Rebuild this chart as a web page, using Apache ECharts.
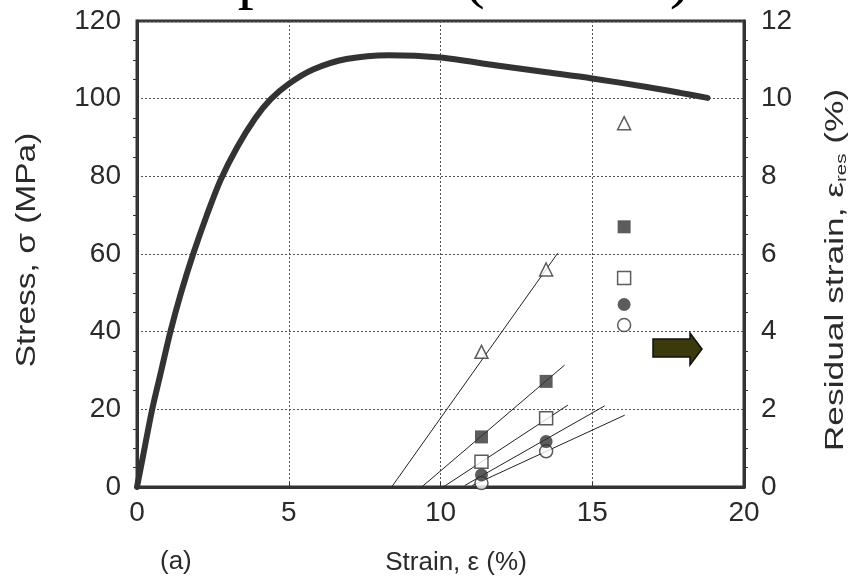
<!DOCTYPE html>
<html>
<head>
<meta charset="utf-8">
<script src="https://cdn.jsdelivr.net/npm/echarts@6/dist/echarts.min.js"></script>
<style>
html,body{margin:0;padding:0;background:#fff;}
#chart{width:863px;height:580px;}
</style>
</head>
<body>
<div id="chart"></div>
<script>
// Stress-strain curve (strain %, stress MPa)
const curveStrain = [0, 0.2, 0.5, 0.8, 1.1, 1.45, 1.85, 2.3, 2.75, 3.3, 3.9, 4.4, 5.0, 5.8, 6.9, 8.3, 10.0, 11.8, 13.5, 15.0, 16.8, 17.9, 18.8];
const curveStress = [0, 8, 20, 30, 40, 50, 60, 70, 79, 87.5, 95, 99.8, 103.8, 107.5, 110.2, 111.2, 110.6, 108.6, 106.8, 105.2, 103, 101.5, 100.2];

// Residual strain markers (applied strain %, residual strain %)
const markerStrain = [11.35, 13.48, 16.05];
const openTriangle = [3.48, 5.6, 9.37];
const filledSquare = [1.29, 2.72, 6.7];
const openSquare = [0.65, 1.77, 5.38];
const filledCircle = [0.31, 1.17, 4.7];
const openCircle = [0.1, 0.92, 4.17];

// Fitted lines (start/end points: [strain, residual strain])
const lineTriangle = [[8.39, 0], [13.86, 6.02]];
const lineFilledSquare = [[9.38, 0], [14.09, 3.14]];
const lineOpenSquare = [[10.09, 0], [14.2, 2.11]];
const lineFilledCircle = [[10.8, 0.04], [15.41, 2.09]];
const lineOpenCircle = [[11.05, 0.04], [16.07, 1.85]];

// Axis ticks
const xTicks = [0, 5, 10, 15, 20];
const stressTicks = [0, 20, 40, 60, 80, 100, 120];
const residualTicks = [0, 2, 4, 6, 8, 10, 12];

const ink = '#2a2a2a';
const font = "'Liberation Sans', Arial, sans-serif";

function pairs(xs, ys) { return xs.map((x, i) => [x, ys[i]]); }

const chart = echarts.init(document.getElementById('chart'), null, {renderer: 'canvas'});

function scatter(name, ys, symbol, filled, size) {
  return {
    name: name, type: 'scatter', xAxisIndex: 0, yAxisIndex: 1,
    data: pairs(markerStrain, ys), symbol: symbol, symbolSize: size,
    itemStyle: {color: filled ? '#333' : '#fff', borderColor: '#333', borderWidth: filled ? 0 : 1.5},
    z: 5
  };
}
function seg(name, pts) {
  return {
    name: name, type: 'line', xAxisIndex: 0, yAxisIndex: 1, data: pts,
    showSymbol: false, symbol: 'none', lineStyle: {color: '#222', width: 1}, z: 3, silent: true
  };
}

const splitStyle = {show: true, lineStyle: {color: '#555', width: 1, type: [2, 2]}};

chart.setOption({
  animation: false,
  backgroundColor: '#fff',
  grid: {left: 137, right: 119, top: 21, bottom: 93, show: true, borderColor: '#333', borderWidth: 3, backgroundColor: 'transparent'},
  xAxis: [{
    type: 'value', min: xTicks[0], max: xTicks[xTicks.length - 1], interval: 5,
    axisLine: {show: true, lineStyle: {color: '#333', width: 3}},
    axisTick: {show: true, inside: true, length: 5, lineStyle: {color: '#333'}},
    axisLabel: {fontSize: 28, fontFamily: font, color: ink, margin: 12},
    splitLine: splitStyle
  }],
  yAxis: [{
    type: 'value', min: stressTicks[0], max: stressTicks[stressTicks.length - 1], interval: 20, position: 'left',
    axisLine: {show: true, lineStyle: {color: '#333', width: 3}},
    axisTick: {show: false},
    minorTick: {show: true, splitNumber: 4, length: 4, lineStyle: {color: '#333'}},
    axisLabel: {fontSize: 28, fontFamily: font, color: ink, margin: 16},
    splitLine: splitStyle
  }, {
    type: 'value', min: residualTicks[0], max: residualTicks[residualTicks.length - 1], interval: 2, position: 'right',
    axisLine: {show: true, lineStyle: {color: '#333', width: 3}},
    axisTick: {show: false},
    minorTick: {show: true, splitNumber: 4, length: 4, lineStyle: {color: '#333'}},
    axisLabel: {fontSize: 28, fontFamily: font, color: ink, margin: 17},
    splitLine: {show: false}
  }],
  series: [
    {
      name: 'stress', type: 'line', xAxisIndex: 0, yAxisIndex: 0,
      data: pairs(curveStrain, curveStress), smooth: 0.3, showSymbol: false, symbol: 'none',
      lineStyle: {color: '#333', width: 6, cap: 'round', join: 'round'}, z: 4
    },
    seg('l1', lineTriangle), seg('l2', lineFilledSquare), seg('l3', lineOpenSquare),
    seg('l4', lineFilledCircle), seg('l5', lineOpenCircle),
    scatter('openTriangle', openTriangle, 'triangle', false, 13),
    scatter('filledSquare', filledSquare, 'rect', true, 13),
    scatter('openSquare', openSquare, 'rect', false, 13),
    scatter('openCircle', openCircle, 'circle', false, 13),
    scatter('filledCircle', filledCircle, 'circle', true, 13)
  ],
  graphic: [
    {type: 'text', x: 160, y: 549, style: {text: '(a)', fontSize: 26, fontFamily: font, fill: ink}},
    {type: 'text', x: 456, y: 563, style: {text: 'Strain, ε (%)', fontSize: 26, fontFamily: font, fill: ink, align: 'center', verticalAlign: 'middle'}},
    {type: 'text', x: 28, y: 250, rotation: Math.PI / 2, scaleX: 1.24,
     style: {text: 'Stress, σ (MPa)', fontSize: 27, fontFamily: font, fill: ink, align: 'center', verticalAlign: 'middle'}},
    {type: 'text', x: 836, y: 270, rotation: Math.PI / 2, scaleX: 1.36,
     style: {text: '{n|Residual strain, ε}{s|res}{n| (%)}', fontSize: 26, fontFamily: font, fill: ink, align: 'center', verticalAlign: 'middle',
       rich: {n: {fontSize: 26, fontFamily: font, fill: ink}, s: {fontSize: 15, fontFamily: font, fill: ink, padding: [12, 0, 0, 0]}}}},
    {type: 'text', x: 125, y: -53, style: {text: 'Temperature (tension)', fontSize: 64, fontFamily: "'Liberation Serif', 'Times New Roman', serif", fill: '#000'}},
    {type: 'polygon', shape: {points: [[653, 339], [690, 339], [690, 333], [702, 349], [690, 365], [690, 357], [653, 357]]},
     style: {fill: '#3a3a0a', stroke: '#111', lineWidth: 1.5}, z: 10}
  ]
});
</script>
</body>
</html>
